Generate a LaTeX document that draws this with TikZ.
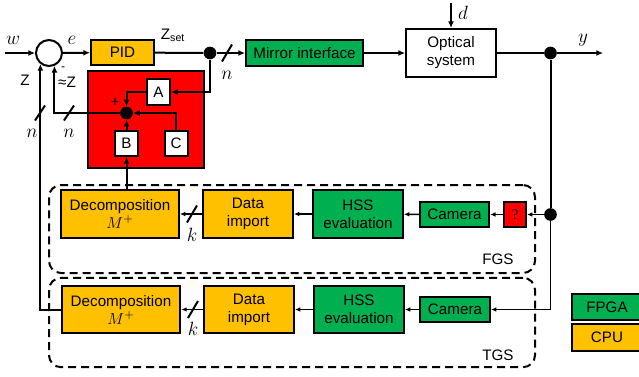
\documentclass[tikz,border=0pt]{standalone}
\usepackage{fontspec}
\setmainfont{Liberation Sans}
\newfontfamily\seriffont{Liberation Serif}
\usetikzlibrary{arrows.meta}
\definecolor{cpuorange}{HTML}{FFC000}
\definecolor{fpgagreen}{HTML}{00B050}
\definecolor{errred}{HTML}{FF0000}

\begin{document}
\begin{tikzpicture}[x=0.75pt, y=-0.75pt, >={Latex[length=5pt,width=4.5pt]},
    every node/.style={font=\fontsize{11.4}{13.5}\selectfont},
    blk/.style={draw, line width=1.5pt, inner sep=0pt, align=center},
    cpu/.style={blk, fill=cpuorange},
    fpga/.style={blk, fill=fpgagreen},
    wbox/.style={blk, fill=white},
    dot/.style={circle, fill, inner sep=0pt, minimum size=9.5pt},
    sig/.style={line width=1.5pt},
    thinsig/.style={line width=1.1pt, -{Latex[length=4pt,width=3.5pt]}},
    gsbox/.style={draw, line width=1.5pt, dash pattern=on 6pt off 3.75pt, rounded corners=9pt, minimum width=364.5pt, minimum height=66pt},
    lbl/.style={inner sep=0pt},
    mlbl/.style={inner sep=0pt, font=\fontsize{14}{16}\selectfont}]
    \useasboundingbox (0,0) rectangle (639,376);

    % Gruppen FGS / TGS
    \node[gsbox] (fgs) at (292,229) {};
    \node[gsbox, minimum height=67pt] (tgs) at (292,322.5) {};
    \node[lbl] (fgslbl) at (498,259) {FGS};
    \node[lbl] (tgslbl) at (498,355) {TGS};

    % Regelkreis oben
    \node[circle, draw, line width=1.5pt, minimum size=19.5pt, inner sep=0pt] (sum) at (49,53) {};
    \node[cpu, minimum width=47.25pt, minimum height=18.75pt] (pid) at (122.5,52.5) {PID};
    \node[dot] (split) at (210,53) {};
    \node[fpga, minimum width=87.75pt, minimum height=19.5pt] (mirror) at (304.5,53) {Mirror interface};
    \node[wbox, minimum width=67.5pt, minimum height=36pt] (optic) at (451,53) {Optical\\system};
    \node[dot] (yout) at (550.5,53) {};
    \coordinate (win) at (5,53);
    \coordinate (yend) at (603,53);
    \coordinate (din) at (451,3);

    % Korrekturblock
    \node[blk, fill=errred, minimum width=87pt, minimum height=72.75pt] (corr) at (146,119.5) {};
    \node[wbox, minimum width=17.25pt, minimum height=19.5pt] (A) at (158.5,92) {A};
    \node[wbox, minimum width=17.25pt, minimum height=18.75pt] (B) at (126.5,143.5) {B};
    \node[wbox, minimum width=17.25pt, minimum height=18.75pt] (C) at (176,143.5) {C};
    \node[dot] (sumc) at (126.5,113) {};

    % FGS-Zweig
    \node[cpu, minimum width=88.5pt, minimum height=36pt] (fdec) at (120,214) {Decomposition\\{\fontsize{13}{13.5}\selectfont$M^+$}};
    \node[cpu, minimum width=67.5pt, minimum height=36pt] (fdat) at (248,214) {Data\\import};
    \node[fpga, minimum width=67.5pt, minimum height=36pt] (fhss) at (358,214) {HSS\\evaluation};
    \node[fpga, minimum width=52pt, minimum height=18.75pt] (fcam) at (454.5,214.5) {Camera};
    \node[blk, fill=errred, minimum width=16.5pt, minimum height=18.75pt, font=\seriffont\fontsize{11}{13}\selectfont] (fq) at (515,214.5) {?};
    \node[dot] (fsplit) at (550.5,214.5) {};

    % TGS-Zweig
    \node[cpu, minimum width=89pt, minimum height=35.25pt] (tdec) at (121,309.5) {Decomposition\\{\fontsize{13}{13.5}\selectfont$M^+$}};
    \node[cpu, minimum width=67.5pt, minimum height=35.25pt] (tdat) at (249,309.5) {Data\\import};
    \node[fpga, minimum width=67.5pt, minimum height=35.25pt] (thss) at (359,309.5) {HSS\\evaluation};
    \node[fpga, minimum width=52.5pt, minimum height=18.75pt] (tcam) at (455,309.5) {Camera};

    % Legende
    \node[fpga, minimum width=52.5pt, minimum height=19.5pt] (legfpga) at (607,307) {FPGA};
    \node[cpu, minimum width=52.5pt, minimum height=20.25pt] (legcpu) at (607,337.5) {CPU};

    % Verbindungen oben
    \draw[sig, ->] (win) -- (sum);
    \draw[sig, ->] (sum) -- (pid);
    \draw[sig] (pid) -- (split);
    \draw[sig, ->] (split) -- (mirror);
    \draw[sig, ->] (mirror) -- (optic);
    \draw[sig, ->] (din) -- (optic);
    \draw[sig, ->] (optic) -- (yout) -- (yend);
    \draw[sig, ->] (split) |- (A);
    \draw[sig, ->] (A) -| (sumc);
    \draw[sig, ->] (B) -- (sumc);
    \draw[sig, ->] (C) |- (sumc);
    \draw[sig, ->] (sumc) -| (sum.-67);
    \draw[sig, ->] (fdec.north -| B) -- (B);
    \draw[sig, ->] (tdec) -| (sum.-128);
    \draw[sig] (yout) -- (fsplit);

    % Verbindungen FGS / TGS
    \draw[thinsig] (fsplit) -- (fq);
    \draw[thinsig] (fq) -- (fcam);
    \draw[thinsig] (fcam) -- (fhss);
    \draw[thinsig] (fhss) -- (fdat);
    \draw[thinsig] (fdat) -- (fdec);
    \draw[thinsig] (fsplit) |- (tcam);
    \draw[thinsig] (tcam) -- (thss);
    \draw[thinsig] (thss) -- (tdat);
    \draw[thinsig] (tdat) -- (tdec);

    % Busbreiten
    \coordinate (bus1) at (227,53);
    \coordinate (bus2) at (40,113);
    \coordinate (bus3) at (69,113);
    \coordinate (bus4) at (192,214);
    \coordinate (bus5) at (193,309.5);
    \draw[sig] (bus1) ++(-5,8.5) -- ++(10,-17);
    \draw[sig] (bus2) ++(-5,7.5) -- ++(10,-15);
    \draw[sig] (bus3) ++(-5,7.5) -- ++(10,-15);
    \draw[sig] (bus4) ++(-5,8.5) -- ++(10,-17);
    \draw[sig] (bus5) ++(-5,8.5) -- ++(10,-17);

    % Beschriftungen
    \node[mlbl] (wlbl) at (13,40) {$w$};
    \node[mlbl] (elbl) at (72,40) {$e$};
    \node[lbl] (zsetlbl) at (173,35) {Z\textsubscript{set}};
    \node[lbl] (zlbl) at (25,80) {Z};
    \node[lbl, font=\fontsize{9}{10}\selectfont] (minuslbl) at (63,69) {-};
    \node[lbl] (zestlbl) at (67,82) {≈Z};
    \node[lbl, font=\fontsize{10.5}{11}\selectfont] (pluslbl) at (115,102) {+};
    \node[mlbl] (n1lbl) at (32,133) {$n$};
    \node[mlbl] (n2lbl) at (69,133) {$n$};
    \node[mlbl] (n3lbl) at (227,75) {$n$};
    \node[mlbl] (dlbl) at (463,13) {$d$};
    \node[mlbl] (ylbl) at (583,40) {$y$};
    \node[mlbl] (k1lbl) at (192,235) {$k$};
    \node[mlbl] (k2lbl) at (193,329) {$k$};
\end{tikzpicture}
\end{document}
